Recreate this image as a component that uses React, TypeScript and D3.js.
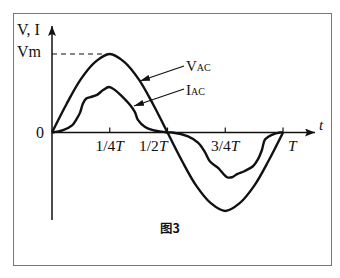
import React from "react";
import * as d3 from "d3";

// Phase (fraction of period T) and value (fraction of Vm)
const vPhases = [0, 0.0625, 0.125, 0.1875, 0.25, 0.3125, 0.375, 0.4375, 0.5, 0.5625, 0.625, 0.6875, 0.75, 0.8125, 0.875, 0.9375, 1];
const vValues = [0, 0.36, 0.68, 0.9, 1, 0.9, 0.68, 0.36, 0, -0.36, -0.68, -0.9, -1, -0.9, -0.68, -0.36, 0];

const iPhases = [0, 0.048, 0.087, 0.108, 0.121, 0.134, 0.147, 0.165, 0.195, 0.221, 0.247, 0.273, 0.303, 0.338, 0.359, 0.372, 0.403, 0.437, 0.476, 0.5,
  0.52, 0.589, 0.632, 0.662, 0.684, 0.719, 0.758, 0.779, 0.801, 0.835, 0.87, 0.892, 0.909, 0.922, 0.952, 0.987, 1];
const iValues = [0, 0.03, 0.09, 0.18, 0.25, 0.37, 0.43, 0.45, 0.48, 0.54, 0.58, 0.54, 0.46, 0.35, 0.26, 0.16, 0.07, 0.03, 0.01, 0,
  0, -0.05, -0.13, -0.25, -0.37, -0.45, -0.57, -0.57, -0.53, -0.49, -0.43, -0.34, -0.22, -0.09, -0.03, 0, 0];

const tickValues = [0.25, 0.5, 0.75, 1];
const tickNums = ["1/4", "1/2", "3/4", ""];
const tickAnchors = ["middle", "end", "middle", "start"];
const tickShift = [0, 0, 0, 5];

export default function App() {
  const W = 340, H = 278;
  const x = d3.scaleLinear().domain([0, 1]).range([52, 283]);
  const y = d3.scaleLinear().domain([-1, 1]).range([211, 54]);
  const y0 = y(0);

  const mk = d3.line<[number, number]>()
    .x(d => x(d[0])).y(d => y(d[1]))
    .curve(d3.curveCatmullRom.alpha(0.5));
  const vPath = mk(vPhases.map((p, i) => [p, vValues[i]] as [number, number]));
  const iPath = mk(iPhases.map((p, i) => [p, iValues[i]] as [number, number]));

  const serif = "'Liberation Serif', 'DejaVu Serif', serif";

  return (
    <svg width={W} height={H} style={{ position: "fixed", left: 0, top: 0, background: "#fff" }}
      xmlns="http://www.w3.org/2000/svg">
      <defs>
        <marker id="ah" viewBox="0 0 10 6" refX="10" refY="3" markerWidth="10" markerHeight="6"
          markerUnits="userSpaceOnUse" orient="auto">
          <path d="M0,0 L10,3 L0,6 Z" fill="#111" />
        </marker>
        <marker id="ah2" viewBox="0 0 10 8" refX="10" refY="4" markerWidth="11" markerHeight="8"
          markerUnits="userSpaceOnUse" orient="auto">
          <path d="M0,0 L10,4 L0,8 L2,4 Z" fill="#111" />
        </marker>
      </defs>
      {/* frame */}
      <rect x={13.5} y={13.5} width={318} height={252} fill="none" stroke="#777" strokeWidth={1} />

      {/* axes */}
      <line x1={x(0)} y1={220} x2={x(0)} y2={26} stroke="#111" strokeWidth={1.5} markerEnd="url(#ah2)" />
      <line x1={x(0)} y1={y0} x2={315} y2={y0} stroke="#111" strokeWidth={1.5} markerEnd="url(#ah2)" />

      {/* ticks */}
      {tickValues.map((t, i) => (
        <line key={"t" + i} x1={x(t)} x2={x(t)} y1={y0} y2={y0 - 5} stroke="#111" strokeWidth={1.2} />
      ))}
      {tickValues.map((t, i) => (
        <text key={"l" + i} x={x(t) + tickShift[i]} y={151} textAnchor={tickAnchors[i] as any}
          fontFamily={serif} fontSize={15.5} fill="#111">
          {tickNums[i]}<tspan fontStyle="italic">T</tspan>
        </text>
      ))}

      {/* dashed Vm line */}
      <line x1={x(0)} x2={x(0.25)} y1={y(1)} y2={y(1)} stroke="#111" strokeWidth={1.2} strokeDasharray="5,4" />

      {/* curves */}
      <path d={vPath || ""} fill="none" stroke="#111" strokeWidth={2.4} strokeLinejoin="round" />
      <path d={iPath || ""} fill="none" stroke="#111" strokeWidth={2.4} strokeLinejoin="round" />

      {/* labels */}
      <text x={17} y={35} fontFamily={serif} fontSize={16} fill="#111">V, I</text>
      <text x={17} y={57} fontFamily={serif} fontSize={16} fill="#111">Vm</text>
      <text x={36} y={138} fontFamily={serif} fontSize={16} fill="#111">0</text>
      <text x={319} y={130} fontFamily={serif} fontSize={15} fontStyle="italic" fill="#111">t</text>

      {/* annotations */}
      <line x1={184} y1={66} x2={140} y2={81} stroke="#111" strokeWidth={1.3} markerEnd="url(#ah)" />
      <line x1={184} y1={89} x2={134} y2={106} stroke="#111" strokeWidth={1.3} markerEnd="url(#ah)" />
      <text x={186} y={71} fontFamily={serif} fontSize={15} fill="#111">V<tspan fontSize={10}>AC</tspan></text>
      <text x={186} y={95} fontFamily={serif} fontSize={15} fill="#111">I<tspan fontSize={10}>AC</tspan></text>

      <text x={160} y={233} fontFamily="'Noto Sans CJK SC', sans-serif" fontSize={12.5} fontWeight="bold" fill="#111">图3</text>
    </svg>
  );
}
